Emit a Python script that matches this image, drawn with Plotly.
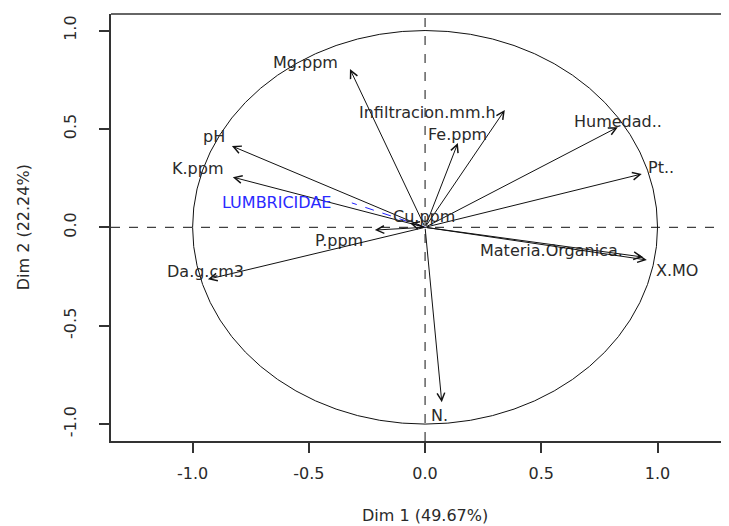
import plotly.graph_objects as go

# ---- data (variable coordinates on Dim 1 / Dim 2) ----
var_names = ["Mg.ppm", "Infiltracion.mm.h", "Fe.ppm", "Humedad..", "Pt..",
             "Materia.Organica.", "X.MO", "pH", "K.ppm", "Cu.ppm", "P.ppm",
             "Da.g.cm3", "N."]
dim1 = [-0.323, 0.343, 0.141, 0.829, 0.932, 0.937, 0.954, -0.831, -0.827,
        -0.065, -0.216, -0.934, 0.072]
dim2 = [0.804, 0.596, 0.428, 0.509, 0.271, -0.151, -0.166, 0.413, 0.255,
        0.022, -0.014, -0.264, -0.889]

sup_name = "LUMBRICIDAE"
sup_dim1 = -0.315
sup_dim2 = 0.124

tick_vals = [-1.0, -0.5, 0.0, 0.5, 1.0]
tick_text = ["-1.0", "-0.5", "0.0", "0.5", "1.0"]
x_title = "Dim 1 (49.67%)"
y_title = "Dim 2 (22.24%)"

# ---- label placement (pixel offsets from arrow tips) ----
label_offsets = {
    "Mg.ppm": (-44, 7), "Infiltracion.mm.h": (-77, -2), "Fe.ppm": (0, 9),
    "Humedad..": (0, 6), "Pt..": (19, 6), "Materia.Organica.": (-91, 7),
    "X.MO": (30, -11), "pH": (-18, 10), "K.ppm": (-35, 9), "Cu.ppm": (14, 6),
    "P.ppm": (-36, -10), "Da.g.cm3": (-2, 8), "N.": (-2, -13),
}
sup_offset = (-75, 0)

FONT = "DejaVu Sans"
TXT = "#2a2a2a"

fig = go.Figure()

# supplementary variable: dashed blue line
fig.add_trace(go.Scatter(x=[0, sup_dim1], y=[0, sup_dim2], mode="lines",
                         line=dict(color="#2020ff", width=1, dash="dash"),
                         hoverinfo="skip", showlegend=False))

annotations = []
for n, x, y in zip(var_names, dim1, dim2):
    annotations.append(dict(x=x, y=y, ax=0, ay=0, xref="x", yref="y",
                            axref="x", ayref="y", text="", showarrow=True,
                            arrowhead=5, arrowsize=1.5, arrowwidth=1,
                            arrowcolor="#111111"))
    dx, dy = label_offsets[n]
    annotations.append(dict(x=x, y=y, xref="x", yref="y", text=n,
                            showarrow=False, xshift=dx, yshift=dy,
                            xanchor="center", yanchor="middle",
                            font=dict(family=FONT, size=16, color=TXT)))

# arrowhead for supplementary variable
annotations.append(dict(x=sup_dim1, y=sup_dim2, ax=sup_dim1 * 0.97,
                        ay=sup_dim2 * 0.97, xref="x", yref="y", axref="x",
                        ayref="y", text="", showarrow=True, arrowhead=5,
                        arrowsize=1.5, arrowwidth=1, arrowcolor="#2020ff"))
annotations.append(dict(x=sup_dim1, y=sup_dim2, xref="x", yref="y",
                        text=sup_name, showarrow=False, xshift=sup_offset[0],
                        yshift=sup_offset[1], xanchor="center",
                        yanchor="middle",
                        font=dict(family=FONT, size=16, color="#2a2aff")))

# axis titles
annotations.append(dict(x=0, y=0, xref="x", yref="paper", text=x_title,
                        showarrow=False, yshift=-74, xanchor="center",
                        yanchor="middle",
                        font=dict(family=FONT, size=16, color=TXT)))
annotations.append(dict(x=0, y=0, xref="paper", yref="y", text=y_title,
                        showarrow=False, xshift=-88, textangle=-90,
                        xanchor="center", yanchor="middle",
                        font=dict(family=FONT, size=16, color=TXT)))

shapes = [
    dict(type="circle", xref="x", yref="y", x0=-1, y0=-1, x1=1, y1=1,
         line=dict(color="#111111", width=1)),
    dict(type="line", xref="x", yref="paper", x0=0, x1=0, y0=0, y1=1,
         line=dict(color="#111111", width=1, dash="dash")),
    dict(type="line", xref="paper", yref="y", x0=0, x1=1, y0=0, y1=0,
         line=dict(color="#111111", width=1, dash="dash")),
    dict(type="line", xref="paper", yref="paper", x0=0, x1=1, y0=1, y1=1,
         line=dict(color="#333333", width=1.5)),
]

fig.update_layout(
    width=713, height=518,
    margin=dict(l=103, r=0, t=6, b=85, pad=0),
    paper_bgcolor="white", plot_bgcolor="white",
    showlegend=False,
    annotations=annotations, shapes=shapes,
    font=dict(family=FONT, size=16, color=TXT),
    xaxis=dict(range=[-1.351, 1.273], tickvals=tick_vals, ticktext=tick_text,
               ticks="outside", ticklen=10, tickwidth=1.5, tickcolor="#333333",
               showline=True, linecolor="#333333", linewidth=1.5,
               showgrid=False, zeroline=False, ticklabelstandoff=7,
               tickfont=dict(family=FONT, size=16, color=TXT)),
    yaxis=dict(range=[-1.086, 1.084], tickvals=tick_vals, ticktext=tick_text,
               ticks="outside", ticklen=10, tickwidth=1.5, tickcolor="#333333",
               showline=True, linecolor="#333333", linewidth=1.5,
               showgrid=False, zeroline=False, tickangle=-90,
               ticklabelstandoff=17,
               tickfont=dict(family=FONT, size=16, color=TXT)),
)

fig.write_html("out.html")
